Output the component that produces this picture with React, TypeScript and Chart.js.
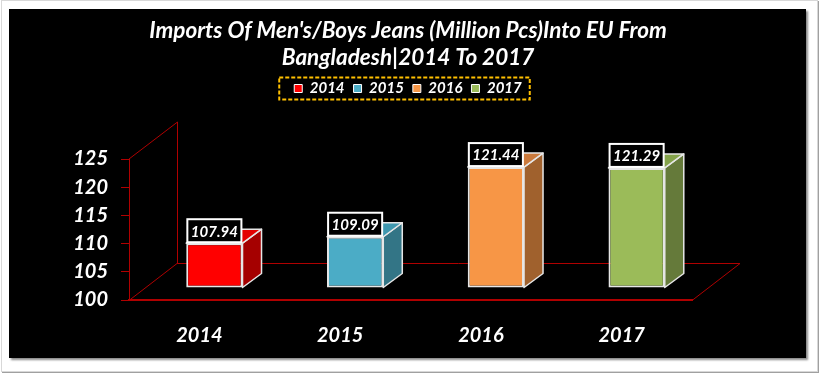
import React, { useEffect, useRef } from 'react';
import { Chart, registerables } from 'chart.js';

Chart.register(...registerables);

// ---- data ----
const titleLines = ["Imports Of Men's/Boys Jeans (Million Pcs)Into EU From", 'Bangladesh|2014 To 2017'];
const years = ['2014', '2015', '2016', '2017'];
const imports = [107.94, 109.09, 121.44, 121.29];
const yMin = 100;
const yMax = 125;
const yStep = 5;

// ---- styles ----
const frontColors = ['#FF0000', '#4BACC6', '#F79646', '#9BBB59'];
const sideColors = ['#A50000', '#337586', '#A0612D', '#657A3A'];
const topColors = ['#E40000', '#3F98AF', '#CB7A3C', '#84A24A'];
const FAMILY = 'Lato, "Open Sans", sans-serif';
const AXIS_RED = '#B00000';
const FLOOR_DEPTH = { dx: 48, dy: -37 };
const BAR_SHIFT = { dx: 15, dy: -12 };
const BAR_DEPTH = { dx: 19, dy: -14 };
const BAR_EDGE = '#E6E6E6';

const font = (size: number, extra: any = {}) => ({ family: FAMILY, size, weight: 'bold' as const, style: 'italic' as const, ...extra });

const threeD = {
  id: 'threeD',
  beforeDatasetsDraw(chart: any) {
    const { ctx, chartArea } = chart;
    const { left: L, right: R, top: T, bottom: B } = chartArea;
    const { dx, dy } = FLOOR_DEPTH;
    ctx.save();
    ctx.strokeStyle = AXIS_RED;
    ctx.lineWidth = 1;
    ctx.beginPath();
    // floor
    ctx.moveTo(L, B + 0.5);
    ctx.lineTo(L + dx, B + dy + 0.5);
    ctx.lineTo(R + dx, B + dy + 0.5);
    ctx.lineTo(R, B + 0.5);
    // side wall
    ctx.moveTo(L, T);
    ctx.lineTo(L + dx + 0.5, T + dy);
    ctx.lineTo(L + dx + 0.5, B + dy + 0.5);
    ctx.stroke();
    ctx.restore();
    ctx.save();
    ctx.translate(BAR_SHIFT.dx, BAR_SHIFT.dy);
  },
  afterDatasetsDraw(chart: any) {
    const { ctx } = chart;
    ctx.restore();
    const meta = chart.getDatasetMeta(0);
    const { dx, dy } = BAR_DEPTH;
    meta.data.forEach((bar: any, i: number) => {
      const { x, y, base, width } = bar.getProps(['x', 'y', 'base', 'width'], true);
      const l = x - width / 2 + BAR_SHIFT.dx;
      const r = x + width / 2 + BAR_SHIFT.dx;
      const t = y + BAR_SHIFT.dy;
      const b = base + BAR_SHIFT.dy;
      ctx.save();
      ctx.lineJoin = 'round';
      ctx.strokeStyle = BAR_EDGE;
      ctx.lineWidth = 1.5;
      // side face
      ctx.beginPath();
      ctx.moveTo(r, t);
      ctx.lineTo(r + dx, t + dy);
      ctx.lineTo(r + dx, b + dy);
      ctx.lineTo(r, b);
      ctx.closePath();
      ctx.fillStyle = sideColors[i];
      ctx.fill();
      ctx.stroke();
      // top face
      ctx.beginPath();
      ctx.moveTo(l, t);
      ctx.lineTo(l + dx, t + dy);
      ctx.lineTo(r + dx, t + dy);
      ctx.lineTo(r, t);
      ctx.closePath();
      ctx.fillStyle = topColors[i];
      ctx.fill();
      ctx.stroke();
      ctx.restore();

      // data label
      const text = imports[i].toFixed(2);
      ctx.save();
      ctx.font = `italic bold 15px ${FAMILY}`;
      const tw = ctx.measureText(text).width;
      const bw = tw + 7;
      const bh = 23;
      const cx = (l + r) / 2;
      const bx = cx - bw / 2;
      const by = t - 1 - bh;
      ctx.fillStyle = '#000';
      ctx.fillRect(bx, by, bw, bh);
      ctx.strokeStyle = '#FFFFFF';
      ctx.lineWidth = 2;
      ctx.strokeRect(bx, by, bw, bh);
      ctx.fillStyle = '#FFFFFF';
      ctx.textAlign = 'center';
      ctx.textBaseline = 'middle';
      ctx.fillText(text, cx, by + bh / 2 + 1);
      ctx.restore();
    });
  },
  afterDraw(chart: any) {
    const lg = chart.legend;
    if (!lg || !lg.legendHitBoxes || !lg.legendHitBoxes.length) return;
    const hbs = lg.legendHitBoxes;
    const first = hbs[0];
    const last = hbs[hbs.length - 1];
    const left = first.left - 15;
    const right = last.left + last.width + 8;
    const cy = first.top + first.height / 2;
    const { ctx } = chart;
    ctx.save();
    ctx.strokeStyle = '#FFC000';
    ctx.lineWidth = 2;
    ctx.setLineDash([4, 2]);
    ctx.strokeRect(left, cy - 11, right - left, 22);
    ctx.restore();
  },
};

export default function App() {
  const ref = useRef<HTMLCanvasElement>(null);
  useEffect(() => {
    document.body.style.margin = '0';
    const chart = new Chart(ref.current as HTMLCanvasElement, {
      type: 'bar',
      data: {
        labels: years,
        datasets: [
          {
            label: 'Imports',
            data: imports,
            base: yMin,
            backgroundColor: frontColors,
            borderColor: BAR_EDGE,
            borderWidth: 2,
            borderSkipped: false,
            categoryPercentage: 1,
            barPercentage: 0.4,
            clip: false as any,
            xAxisID: 'x',
            yAxisID: 'y',
          },
        ],
      },
      options: {
        responsive: false,
        animation: false,
        events: [],
        layout: { padding: { left: 0, right: 4, top: 7, bottom: 0 } },
        plugins: {
          tooltip: { enabled: false },
          title: {
            display: true,
            text: titleLines,
            color: '#FFFFFF',
            font: font(22.5, { lineHeight: '27px' }),
            padding: { top: 10, bottom: 1 },
          },
          legend: {
            display: true,
            position: 'top',
            align: 'center',
            labels: {
              boxWidth: 8,
              boxHeight: 8,
              padding: 9,
              color: '#FFFFFF',
              font: font(15),
              generateLabels: () =>
                years.map((y, i) => ({
                  text: y,
                  fillStyle: frontColors[i],
                  strokeStyle: '#FFFFFF',
                  lineWidth: 1,
                  fontColor: '#FFFFFF',
                  hidden: false,
                  index: i,
                  datasetIndex: 0,
                })),
            },
          },
        },
        scales: {
          x: {
            type: 'category',
            position: 'bottom',
            offset: true,
            grid: { display: true, drawOnChartArea: false, drawTicks: false, color: AXIS_RED },
            border: { display: true, color: AXIS_RED, width: 2 },
            ticks: { color: '#FFFFFF', font: font(20), padding: 24, maxRotation: 0, autoSkip: false },
            afterFit: (s: any) => {
              s.height = 73;
            },
          },
          xTop: {
            type: 'category',
            axis: 'x',
            position: 'top',
            offset: true,
            grid: { display: false },
            border: { display: false },
            ticks: { display: false },
            afterFit: (s: any) => {
              s.height = 53;
            },
          },
          y: {
            type: 'linear',
            position: 'left',
            min: yMin,
            max: yMax,
            ticks: { stepSize: yStep, color: '#FFFFFF', font: font(20), padding: 13 },
            grid: { display: true, drawOnChartArea: false, drawTicks: true, tickLength: 8, color: AXIS_RED },
            border: { display: true, color: AXIS_RED, width: 1 },
            afterFit: (s: any) => {
              s.width = 129;
            },
          },
          yRight: {
            type: 'linear',
            axis: 'y',
            position: 'right',
            min: yMin,
            max: yMax,
            grid: { display: false },
            border: { display: false },
            ticks: { display: false },
            afterFit: (s: any) => {
              s.width = 124;
            },
          },
        },
      } as any,
      plugins: [threeD],
    });
    let alive = true;
    if ((document as any).fonts && (document as any).fonts.load) {
      Promise.all([
        (document as any).fonts.load(`italic bold 20px ${FAMILY}`),
        (document as any).fonts.load(`italic bold 15px ${FAMILY}`),
      ]).then(() => {
        if (alive) chart.update();
      }).catch(() => {});
    }
    return () => {
      alive = false;
      chart.destroy();
    };
  }, []);

  return (
    <div style={{ position: 'relative', width: 820, height: 373, background: '#FFFFFF', overflow: 'hidden' }}>
      <div
        style={{
          position: 'absolute',
          left: 1,
          top: 0,
          width: 815,
          height: 370,
          border: '1px solid #D8D8D8',
          boxShadow: '1px 1px 0px #A0A0A0',
        }}
      />
      <div
        style={{
          position: 'absolute',
          left: 9,
          top: 9,
          width: 797,
          height: 349,
          background: '#000000',
          boxShadow: '2px 2px 2px #8A8A8A',
        }}
      />
      <canvas
        ref={ref}
        width={820}
        height={373}
        style={{ position: 'absolute', left: 0, top: 0, width: 820, height: 373 }}
      />
    </div>
  );
}
